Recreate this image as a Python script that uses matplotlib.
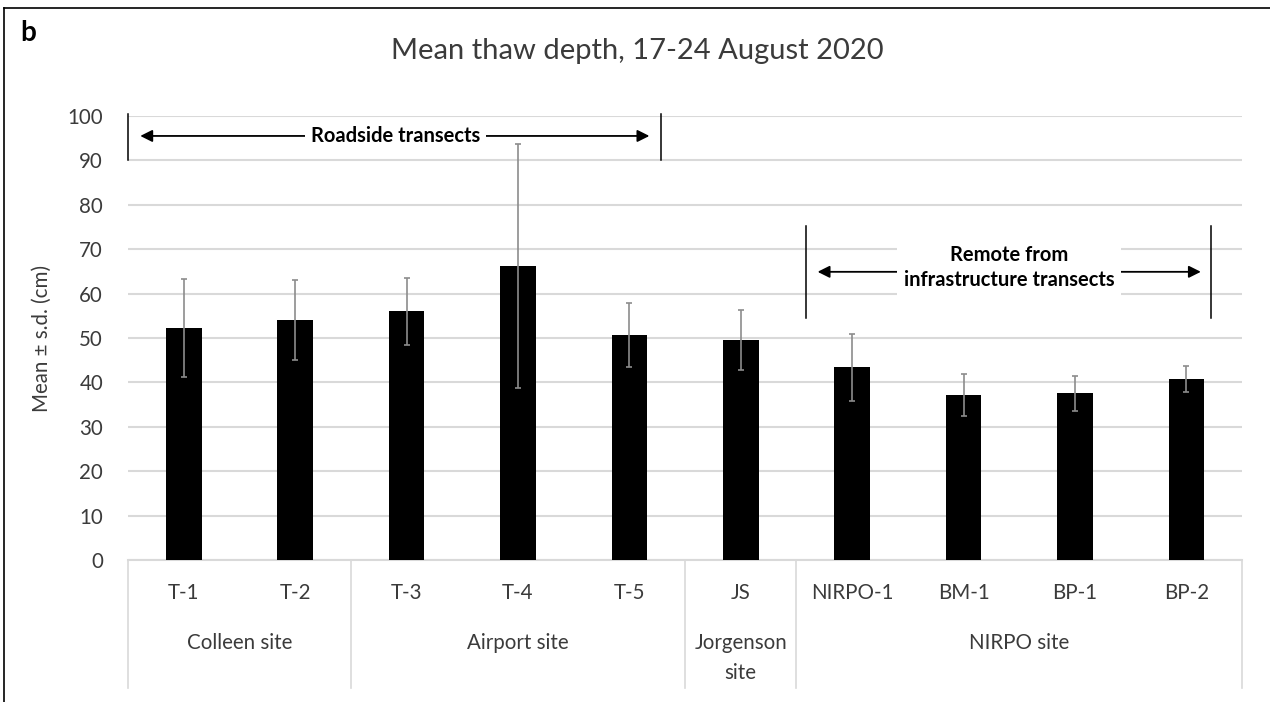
import matplotlib.pyplot as plt
from matplotlib.lines import Line2D

plt.rcParams['font.family'] = ['Lato', 'DejaVu Sans']

# thaw depth per transect (cm)
transects = ['T-1', 'T-2', 'T-3', 'T-4', 'T-5', 'JS', 'NIRPO-1', 'BM-1', 'BP-1', 'BP-2']
mean_depth = [52.2, 54.0, 56.0, 66.2, 50.6, 49.6, 43.4, 37.2, 37.5, 40.8]
sd_depth = [11.0, 9.0, 7.5, 27.5, 7.2, 6.7, 7.6, 4.7, 4.0, 3.0]

# site groups: (label lines, first index, last index)
sites = [(['Colleen site'], 0, 1), (['Airport site'], 2, 4),
         (['Jorgenson', 'site'], 5, 5), (['NIRPO site'], 6, 9)]

txt = '#3b3b3b'
grid = '#d9d9d9'
fs = 14.8

fig = plt.figure(figsize=(12.7, 7.02), dpi=100)
ax = fig.add_axes([0.1008, 0.2023, 0.8772, 0.6325])

x = list(range(len(transects)))
ax.bar(x, mean_depth, width=0.32, color='black', zorder=3)
ax.errorbar(x, mean_depth, yerr=sd_depth, fmt='none', ecolor='#8c8c8c',
            elinewidth=1.2, capsize=2.5, capthick=1.2, zorder=4)

ax.set_xlim(-0.5, 9.5)
ax.set_ylim(0, 100)
ax.set_yticks(range(0, 101, 10))
ax.yaxis.grid(True, color=grid, lw=1.5, zorder=0)
ax.set_axisbelow(True)
for s in ['top', 'right', 'left']:
    ax.spines[s].set_visible(False)
ax.spines['bottom'].set_color(grid)
ax.spines['bottom'].set_linewidth(1.5)
ax.tick_params(axis='y', length=0, pad=18, labelsize=fs, labelcolor=txt)
ax.set_xticks([])

# multi-level category axis: transect names, site names and separators
for i, name in enumerate(transects):
    ax.text(i, -7.4, name, ha='center', va='center', fontsize=fs, color=txt, clip_on=False)
for lines, i0, i1 in sites:
    for k, line in enumerate(lines):
        ax.text((i0 + i1) / 2, -18.7 - 6.8 * k, line, ha='center', va='center',
                fontsize=fs, color=txt, clip_on=False)
for xb in [-0.5, 1.5, 4.5, 5.5, 9.5]:
    ax.plot([xb, xb], [0, -28.8], color=grid, lw=1.2, clip_on=False)

# bracket annotations
arrow = dict(arrowstyle='<|-|>', color='black', lw=1.3, mutation_scale=18,
             shrinkA=0, shrinkB=0)
for xv in [-0.5, 4.28]:
    ax.plot([xv, xv], [90, 100.5], color='black', lw=1.1, clip_on=False, zorder=5)
ax.annotate('', xy=(-0.39, 95.5), xytext=(4.18, 95.5), arrowprops=arrow, zorder=5)
ax.text(1.9, 95.5, 'Roadside transects', ha='center', va='center', fontsize=14.5,
        fontweight='bold', color='black', zorder=6,
        bbox=dict(facecolor='white', edgecolor='none', pad=4))

for xv in [5.59, 9.22]:
    ax.plot([xv, xv], [54.5, 75.2], color='black', lw=1.1, zorder=5)
ax.annotate('', xy=(5.69, 64.9), xytext=(9.13, 64.9), arrowprops=arrow, zorder=5)
ax.text(7.41, 65.9, 'Remote from\ninfrastructure transects', ha='center', va='center',
        fontsize=14.5, fontweight='bold', color='black', linespacing=1.3, zorder=6,
        bbox=dict(facecolor='white', edgecolor='none', pad=5))

fig.text(0.033, 0.518, 'Mean ± s.d. (cm)', rotation=90, ha='center', va='center',
         fontsize=fs, color=txt)
fig.text(0.5016, 0.927, 'Mean thaw depth, 17-24 August 2020', ha='center', va='center',
         fontsize=21, color=txt)
fig.text(0.016, 0.953, 'b', ha='left', va='center', fontsize=20, fontweight='bold')

# panel frame (top and left edges)
fig.add_artist(Line2D([0.003, 1.0], [0.989, 0.989], color='black', lw=1.2))
fig.add_artist(Line2D([0.003, 0.003], [0.0, 0.989], color='black', lw=1.2))

fig.savefig('out.png', dpi=100)
